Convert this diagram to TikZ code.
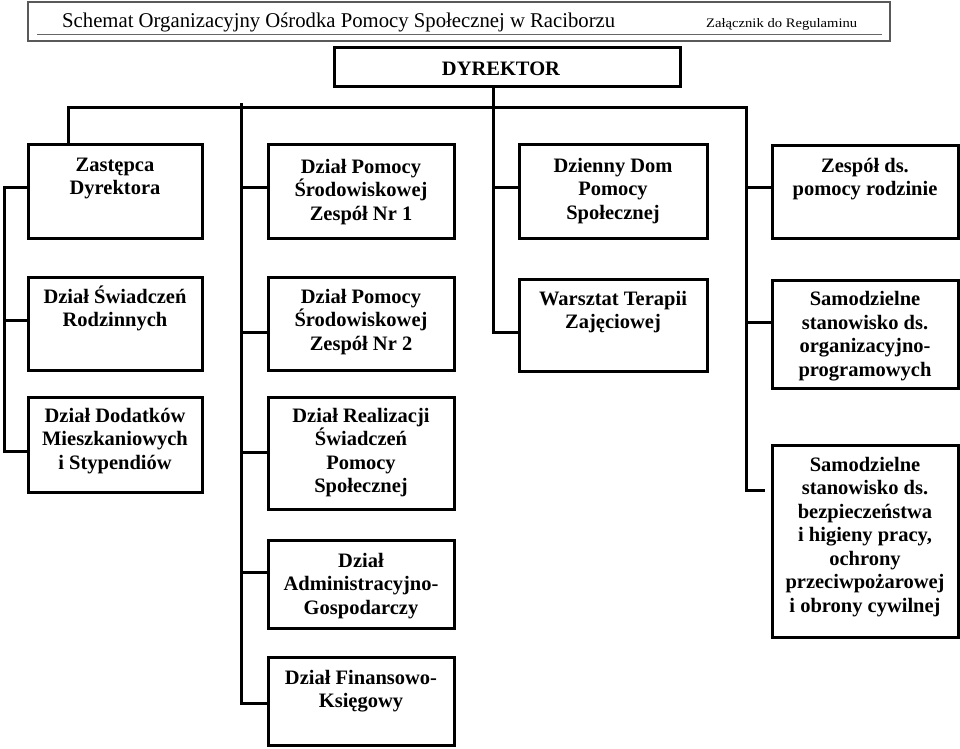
\documentclass[tikz,border=0pt]{standalone}
\usepackage{fontspec}
\setmainfont{Liberation Serif}
\usepackage{graphicx}
\setlength{\lineskiplimit}{-100pt}
\newcommand{\fl}{\rule{0pt}{20pt}}
\begin{document}
\begin{tikzpicture}[x=1pt,y=-1pt,
  boxst/.style={draw=black, line width=3pt, fill=white, rectangle, inner sep=0pt, outer sep=0pt, anchor=north west},
  txt/.style={font=\fontsize{20.5}{23.5}\selectfont\bfseries, align=center, inner sep=0pt, anchor=north},
  conn/.style={draw=black, line width=3pt, line join=miter},
  hdrbox/.style={draw=black!65, line width=1.6pt, rectangle, inner sep=0pt, outer sep=0pt, anchor=north west}]
\useasboundingbox (0,0) rectangle (960,748);

% header
\node[hdrbox, minimum width=862pt, minimum height=39pt] (hdr) at (28,2) {};
\draw[black!60, line width=1pt] (37,34) -- (882,34);
\node[anchor=base west, inner sep=0pt] (title) at (62,27) {\resizebox{553pt}{\height}{\fontsize{21}{21}\selectfont Schemat Organizacyjny Ośrodka Pomocy Społecznej w Raciborzu}};
\node[anchor=base west, inner sep=0pt] (annex) at (706,27) {\resizebox{151pt}{\height}{\fontsize{13}{13}\selectfont Załącznik do Regulaminu}};

% boxes (text nodes: first baseline = y + 20)
\node[boxst, minimum width=346pt, minimum height=39pt] (dir) at (334,47) {};
\node[txt] (dirt) at (501,55) {\fl DYREKTOR};

\node[boxst, minimum width=174pt, minimum height=94pt] (zast) at (28,144) {};
\node[txt] (zastt) at (115,151) {\fl Zastępca\\Dyrektora};

\node[boxst, minimum width=186pt, minimum height=94pt] (dp1) at (268,144) {};
\node[txt] (dp1t) at (361,153) {\fl Dział Pomocy\\Środowiskowej\\Zespół Nr 1};

\node[boxst, minimum width=188pt, minimum height=94pt] (ddps) at (519,144) {};
\node[txt] (ddpst) at (613,152) {\fl Dzienny Dom\\Pomocy\\Społecznej};

\node[boxst, minimum width=186pt, minimum height=93pt] (zesp) at (772,145) {};
\node[txt] (zespt) at (865,152) {\fl Zespół ds.\\pomocy rodzinie};

\node[boxst, minimum width=174pt, minimum height=93pt] (dsr) at (28,277) {};
\node[txt] (dsrt) at (115,283) {\fl Dział Świadczeń\\Rodzinnych};

\node[boxst, minimum width=186pt, minimum height=93pt] (dp2) at (268,277) {};
\node[txt] (dp2t) at (361,283) {\fl Dział Pomocy\\Środowiskowej\\Zespół Nr 2};

\node[boxst, minimum width=188pt, minimum height=92pt] (wtz) at (519,279) {};
\node[txt] (wtzt) at (613,285) {\fl Warsztat Terapii\\Zajęciowej};

\node[boxst, minimum width=186pt, minimum height=108pt] (sso) at (772,280) {};
\node[txt] (ssot) at (865,285.5) {\fl Samodzielne\\stanowisko ds.\\organizacyjno-\\programowych};

\node[boxst, minimum width=174pt, minimum height=95pt] (ddm) at (28,397) {};
\node[txt] (ddmt) at (115,402) {\fl Dział Dodatków\\Mieszkaniowych\\i Stypendiów};

\node[boxst, minimum width=186pt, minimum height=112pt] (drs) at (268,397) {};
\node[txt] (drst) at (361,402) {\fl Dział Realizacji\\Świadczeń\\Pomocy\\Społecznej};

\node[boxst, minimum width=186pt, minimum height=88pt] (dag) at (268,540) {};
\node[txt] (dagt) at (361,547) {\fl Dział\\Administracyjno-\\Gospodarczy};

\node[boxst, minimum width=186pt, minimum height=88pt] (dfk) at (268,657) {};
\node[txt] (dfkt) at (361,664) {\fl Dział Finansowo-\\Księgowy};

\node[boxst, minimum width=186pt, minimum height=192pt] (bhp) at (772,445) {};
\node[txt] (bhpt) at (865,451) {\fl Samodzielne\\stanowisko ds.\\bezpieczeństwa\\i higieny pracy,\\ochrony\\przeciwpożarowej\\i obrony cywilnej};

% connector coordinates
\coordinate (B1) at (68,107);
\coordinate (B4) at (746,107);
\coordinate (N0) at (493,107);
\coordinate (N1) at (493,187);
\coordinate (N3) at (493,332);
\coordinate (M0) at (241,103);
\coordinate (M1) at (241,187);
\coordinate (M2) at (241,332);
\coordinate (M3) at (241,452);
\coordinate (M4) at (241,572);
\coordinate (M5) at (241,703);
\coordinate (L1) at (4,187);
\coordinate (L2) at (4,320);
\coordinate (L3) at (4,451);
\coordinate (R1) at (746,187);
\coordinate (R2) at (746,322);
\coordinate (R3) at (746,490);
\coordinate (S4) at (765,490);

% main bus
\draw[conn] (B1 |- zast.north) -- (B1) -- (B4) -- (R3) -- (S4);
\draw[conn] (dir.south -| N0) -- (N3) -- (N3 -| wtz.west);
\draw[conn] (N1) -- (N1 -| ddps.west);
\draw[conn] (R1) -- (R1 -| zesp.west);
\draw[conn] (R2) -- (R2 -| sso.west);
% column 2
\draw[conn] (M0) -- (M5) -- (M5 -| dfk.west);
\draw[conn] (M1) -- (M1 -| dp1.west);
\draw[conn] (M2) -- (M2 -| dp2.west);
\draw[conn] (M3) -- (M3 -| drs.west);
\draw[conn] (M4) -- (M4 -| dag.west);
% left column
\draw[conn] (L1 -| zast.west) -- (L1) -- (L3) -- (L3 -| ddm.west);
\draw[conn] (L2) -- (L2 -| dsr.west);
\end{tikzpicture}
\end{document}
